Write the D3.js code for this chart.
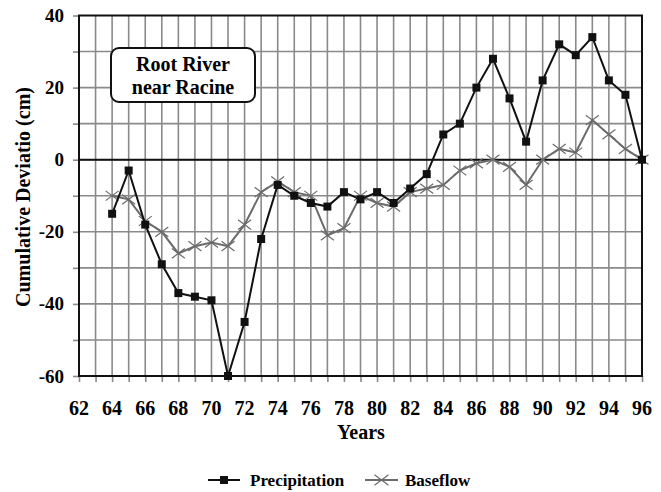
<!DOCTYPE html>
<html>
<head>
<meta charset="utf-8">
<script src="https://cdn.jsdelivr.net/npm/d3@7"></script>
<style>
  body { margin: 0; background: #fff; }
  text { font-family: "Liberation Serif", "Times New Roman", serif; font-weight: bold; }
</style>
</head>
<body>
<svg width="661" height="492"></svg>
<script>
// data
var years = d3.range(64, 97);
var precipitation = [-15, -3, -18, -29, -37, -38, -39, -60, -45, -22, -7, -10, -12, -13, -9, -11, -9,
                     -12, -8, -4, 7, 10, 20, 28, 17, 5, 22, 32, 29, 34, 22, 18, 0];
var baseflow = [-10, -11, -17, -20, -26, -24, -23, -24, -18, -9, -6, -9, -10, -21, -19, -10, -12,
                -13, -9, -8, -7, -3, -1, 0, -2, -7, 0, 3, 2, 11, 7, 3, 0];
var xTicks = d3.range(62, 97, 2);
var yTicks = [40, 20, 0, -20, -40, -60];

var svg = d3.select("svg");
var plotL = 79, plotR = 642, plotT = 15.5, plotB = 376;

var x = d3.scaleLinear().domain([62, 96]).range([plotL, plotR]);
var y = d3.scaleLinear().domain([-60, 40]).range([plotB, plotT]);

// grid
var grid = svg.append("g").attr("stroke", "#8a8a8a").attr("stroke-width", 1.6);
grid.selectAll(".v").data(d3.range(63, 96)).enter().append("line")
    .attr("x1", function(d) { return x(d); }).attr("x2", function(d) { return x(d); })
    .attr("y1", plotT).attr("y2", plotB);
grid.selectAll(".h").data(d3.range(-50, 40, 10)).enter().append("line")
    .attr("x1", plotL).attr("x2", plotR)
    .attr("y1", function(d) { return y(d); }).attr("y2", function(d) { return y(d); });

// x axis
var xAxis = svg.append("g")
    .attr("transform", "translate(0," + plotB + ")")
    .call(d3.axisBottom(x).tickValues(d3.range(62, 97)).tickSize(6).tickFormat(""));
xAxis.select(".domain").remove();
xAxis.selectAll("line").attr("stroke", "#8a8a8a").attr("stroke-width", 1.6);
svg.append("g").selectAll("text").data(xTicks).enter().append("text")
    .attr("x", function(d) { return x(d); }).attr("y", 415)
    .attr("text-anchor", "middle").attr("font-size", 20)
    .text(function(d) { return d; });

// y axis
var yAxis = svg.append("g")
    .attr("transform", "translate(" + plotL + ",0)")
    .call(d3.axisLeft(y).tickValues(d3.range(-60, 41, 10)).tickSize(6).tickFormat(""));
yAxis.select(".domain").remove();
yAxis.selectAll("line").attr("stroke", "#8a8a8a").attr("stroke-width", 1.6);
svg.append("g").selectAll("text").data(yTicks).enter().append("text")
    .attr("x", 64).attr("y", function(d) { return y(d) + 6.5; })
    .attr("text-anchor", "end").attr("font-size", 19)
    .text(function(d) { return d; });

// frame + zero line
svg.append("rect").attr("x", plotL).attr("y", plotT)
    .attr("width", plotR - plotL).attr("height", plotB - plotT)
    .attr("fill", "none").attr("stroke", "#111").attr("stroke-width", 2);
svg.append("line").attr("x1", plotL).attr("x2", plotR)
    .attr("y1", y(0)).attr("y2", y(0))
    .attr("stroke", "#111").attr("stroke-width", 2);

// axis titles
svg.append("text").attr("x", 361).attr("y", 439)
    .attr("text-anchor", "middle").attr("font-size", 20).text("Years");
svg.append("text")
    .attr("transform", "translate(30,197) rotate(-90)")
    .attr("text-anchor", "middle").attr("font-size", 20)
    .text("Cumulative Deviatio (cm)");

// baseflow series
var line = d3.line()
    .x(function(d, i) { return x(years[i]); })
    .y(function(d) { return y(d); });

svg.append("path").datum(baseflow)
    .attr("d", line).attr("fill", "none")
    .attr("stroke", "#6b6b6b").attr("stroke-width", 2);
function cross(sel, r) {
    sel.append("path")
        .attr("d", "M" + (-r) + "," + (-r * 0.75) + "L" + r + "," + (r * 0.75) +
                   "M" + (-r) + "," + (r * 0.75) + "L" + r + "," + (-r * 0.75))
        .attr("stroke", "#6b6b6b").attr("stroke-width", 1.2).attr("fill", "none");
}
svg.append("g").selectAll("g").data(baseflow).enter().append("g")
    .attr("transform", function(d, i) { return "translate(" + x(years[i]) + "," + y(d) + ")"; })
    .call(cross, 6.5);

// precipitation series
svg.append("path").datum(precipitation)
    .attr("d", line).attr("fill", "none")
    .attr("stroke", "#111").attr("stroke-width", 2);
svg.append("g").selectAll("rect").data(precipitation).enter().append("rect")
    .attr("x", function(d, i) { return x(years[i]) - 4; })
    .attr("y", function(d) { return y(d) - 4; })
    .attr("width", 8).attr("height", 8).attr("fill", "#111");

// label box
var box = svg.append("g");
box.append("rect").attr("x", 111).attr("y", 48).attr("width", 144).attr("height", 54)
    .attr("rx", 8).attr("fill", "#fff").attr("stroke", "#111").attr("stroke-width", 2);
box.append("text").attr("x", 183).attr("y", 71).attr("text-anchor", "middle")
    .attr("font-size", 20).text("Root River");
box.append("text").attr("x", 183).attr("y", 94).attr("text-anchor", "middle")
    .attr("font-size", 20).text("near Racine");

// legend
var lg = svg.append("g");
lg.append("line").attr("x1", 208).attr("x2", 240).attr("y1", 480).attr("y2", 480)
    .attr("stroke", "#111").attr("stroke-width", 2);
lg.append("rect").attr("x", 220).attr("y", 476).attr("width", 8).attr("height", 8).attr("fill", "#111");
lg.append("text").attr("x", 250).attr("y", 486).attr("font-size", 17).text("Precipitation");
lg.append("line").attr("x1", 365).attr("x2", 398).attr("y1", 480).attr("y2", 480)
    .attr("stroke", "#6b6b6b").attr("stroke-width", 2);
lg.append("g").attr("transform", "translate(381.5,480)").call(cross, 7);
lg.append("text").attr("x", 405).attr("y", 486).attr("font-size", 17).text("Baseflow");
</script>
</body>
</html>
